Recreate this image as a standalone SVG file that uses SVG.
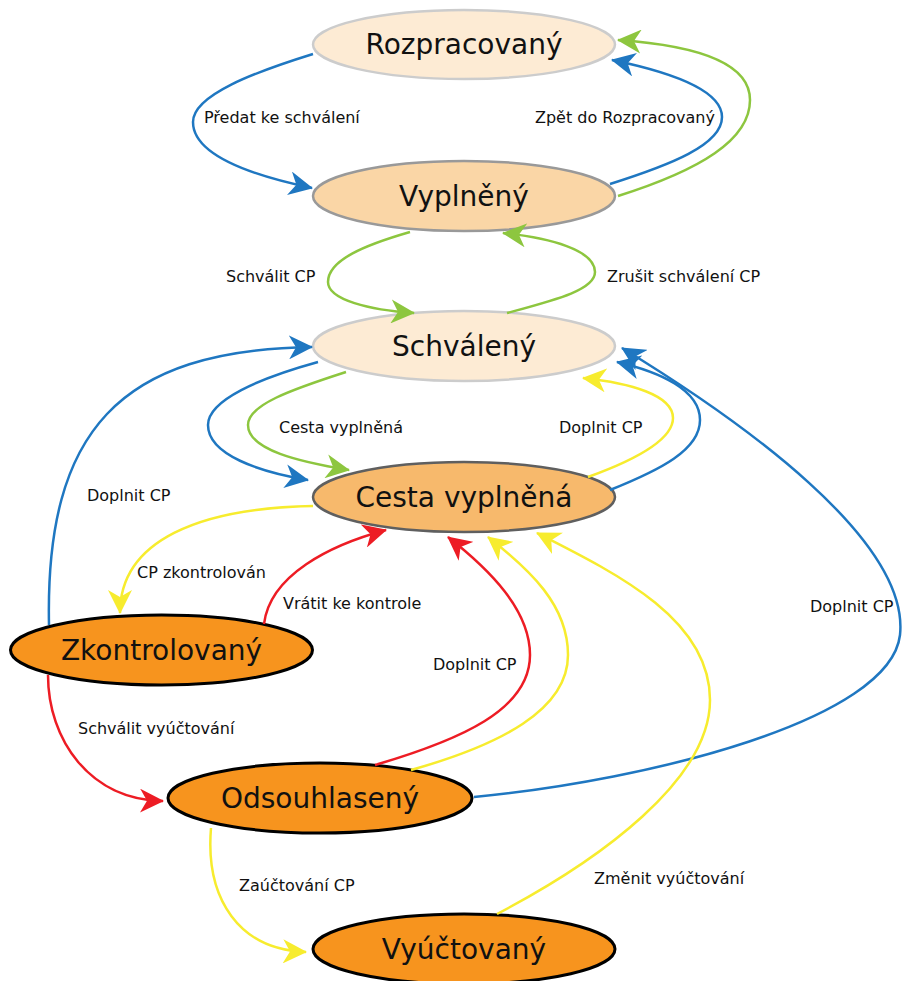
<svg xmlns="http://www.w3.org/2000/svg" width="902" height="981" viewBox="0 0 902 981">
<style>
.n text{font-family:"DejaVu Sans",Verdana,sans-serif;font-size:28px;fill:#111;text-anchor:middle}
.lbl{font-family:"DejaVu Sans",Verdana,sans-serif;font-size:16px;fill:#111}
.e path{fill:none;stroke-width:2.5}
.b{stroke:#1F77C1}
.g{stroke:#8DC63F}
.y{stroke:#F7EC2E}
.r{stroke:#ED1C24}
</style>
<defs>
<marker id="mb" viewBox="0 0 24 24" refX="23" refY="12" markerWidth="24" markerHeight="24" markerUnits="userSpaceOnUse" orient="auto"><path d="M0,0 L24,12 L0,24 L7,12 Z" fill="#1F77C1"/></marker>
<marker id="mg" viewBox="0 0 24 24" refX="23" refY="12" markerWidth="24" markerHeight="24" markerUnits="userSpaceOnUse" orient="auto"><path d="M0,0 L24,12 L0,24 L7,12 Z" fill="#8DC63F"/></marker>
<marker id="my" viewBox="0 0 24 24" refX="23" refY="12" markerWidth="24" markerHeight="24" markerUnits="userSpaceOnUse" orient="auto"><path d="M0,0 L24,12 L0,24 L7,12 Z" fill="#F7EC2E"/></marker>
<marker id="mr" viewBox="0 0 24 24" refX="23" refY="12" markerWidth="24" markerHeight="24" markerUnits="userSpaceOnUse" orient="auto"><path d="M0,0 L24,12 L0,24 L7,12 Z" fill="#ED1C24"/></marker>
</defs>
<rect width="902" height="981" fill="#fff"/>
<g id="nodes">
<g id="rozpracovany" class="n"><ellipse cx="464" cy="44.5" rx="151" ry="34.5" fill="#FDEBD4" stroke="#CCCCCC" stroke-width="2.5"/><text x="464" y="54">Rozpracovaný</text></g>
<g id="vyplneny" class="n"><ellipse cx="464" cy="196" rx="151" ry="35" fill="#FAD6A6" stroke="#999999" stroke-width="2.5"/><text x="464" y="206">Vyplněný</text></g>
<g id="schvaleny" class="n"><ellipse cx="464" cy="346" rx="151" ry="35" fill="#FDEBD4" stroke="#CCCCCC" stroke-width="2.5"/><text x="464" y="356">Schválený</text></g>
<g id="cesta" class="n"><ellipse cx="464" cy="497" rx="151" ry="35" fill="#F7B96C" stroke="#5F5F5F" stroke-width="2.5"/><text x="464" y="507">Cesta vyplněná</text></g>
<g id="zkontrolovany" class="n"><ellipse cx="161.5" cy="650" rx="151" ry="35" fill="#F7941E" stroke="#000" stroke-width="3"/><text x="161.5" y="660">Zkontrolovaný</text></g>
<g id="odsouhlaseny" class="n"><ellipse cx="320" cy="798" rx="152" ry="35" fill="#F7941E" stroke="#000" stroke-width="3"/><text x="320" y="808">Odsouhlasený</text></g>
<g id="vyuctovany" class="n"><ellipse cx="464" cy="949" rx="151" ry="35" fill="#F7941E" stroke="#000" stroke-width="3"/><text x="464" y="959">Vyúčtovaný</text></g>
</g>
<g id="connectors" class="e">
<path class="b" d="M313,54 C255,72 193,95 193,122 C193,155 250,175 312,188" marker-end="url(#mb)"/>
<path class="b" d="M610,184 C670,165 722,145 722,117 C722,90 670,72 612,60" marker-end="url(#mb)"/>
<path class="g" d="M618,196 C700,170 750,140 750,100 C750,60 690,45 618,40" marker-end="url(#mg)"/>
<path class="g" d="M410,232 C365,245 328,260 328,282 C328,300 370,310 414,313" marker-end="url(#mg)"/>
<path class="g" d="M507,313 C555,300 595,290 595,272 C595,250 550,238 503,233" marker-end="url(#mg)"/>
<path class="g" d="M346,372 C290,390 248,405 248,425 C248,450 300,462 349,470" marker-end="url(#mg)"/>
<path class="b" d="M318,362 C260,378 208,400 208,425 C208,455 260,472 308,480" marker-end="url(#mb)"/>
<path class="y" d="M588,477 C635,460 673,440 673,418 C673,395 630,383 583,378" marker-end="url(#my)"/>
<path class="b" d="M610,490 C660,470 700,450 700,420 C700,390 660,372 617,362" marker-end="url(#mb)"/>
<path class="b" d="M474,797 C650,780 890,720 900,635 C910,540 740,420 622,348" marker-end="url(#mb)"/>
<path class="b" d="M49,625 C45,430 120,350 312,347" marker-end="url(#mb)"/>
<path class="y" d="M313,506 C200,508 120,540 120,613" marker-end="url(#my)"/>
<path class="r" d="M264,624 C270,575 330,545 386,530" marker-end="url(#mr)"/>
<path class="r" d="M375,765 C460,740 530,710 530,655 C530,610 490,570 448,537" marker-end="url(#mr)"/>
<path class="y" d="M411,770 C500,745 568,710 568,655 C568,605 530,570 488,537" marker-end="url(#my)"/>
<path class="y" d="M497,914 C600,860 710,780 710,700 C710,620 620,575 537,533" marker-end="url(#my)"/>
<path class="r" d="M48,675 C48,740 90,800 163,801" marker-end="url(#mr)"/>
<path class="y" d="M211,828 C205,900 240,950 306,952" marker-end="url(#my)"/>
</g>
<g id="labels" class="lbl">
<text x="204" y="123">Předat ke schválení</text>
<text x="535" y="123">Zpět do Rozpracovaný</text>
<text x="226" y="282">Schválit CP</text>
<text x="607" y="282">Zrušit schválení CP</text>
<text x="279" y="433">Cesta vyplněná</text>
<text x="559" y="433">Doplnit CP</text>
<text x="87" y="501">Doplnit CP</text>
<text x="137" y="578">CP zkontrolován</text>
<text x="283" y="609">Vrátit ke kontrole</text>
<text x="433" y="670">Doplnit CP</text>
<text x="810" y="612">Doplnit CP</text>
<text x="78" y="734">Schválit vyúčtování</text>
<text x="239" y="891">Zaúčtování CP</text>
<text x="594" y="884">Změnit vyúčtování</text>
</g>
</svg>
